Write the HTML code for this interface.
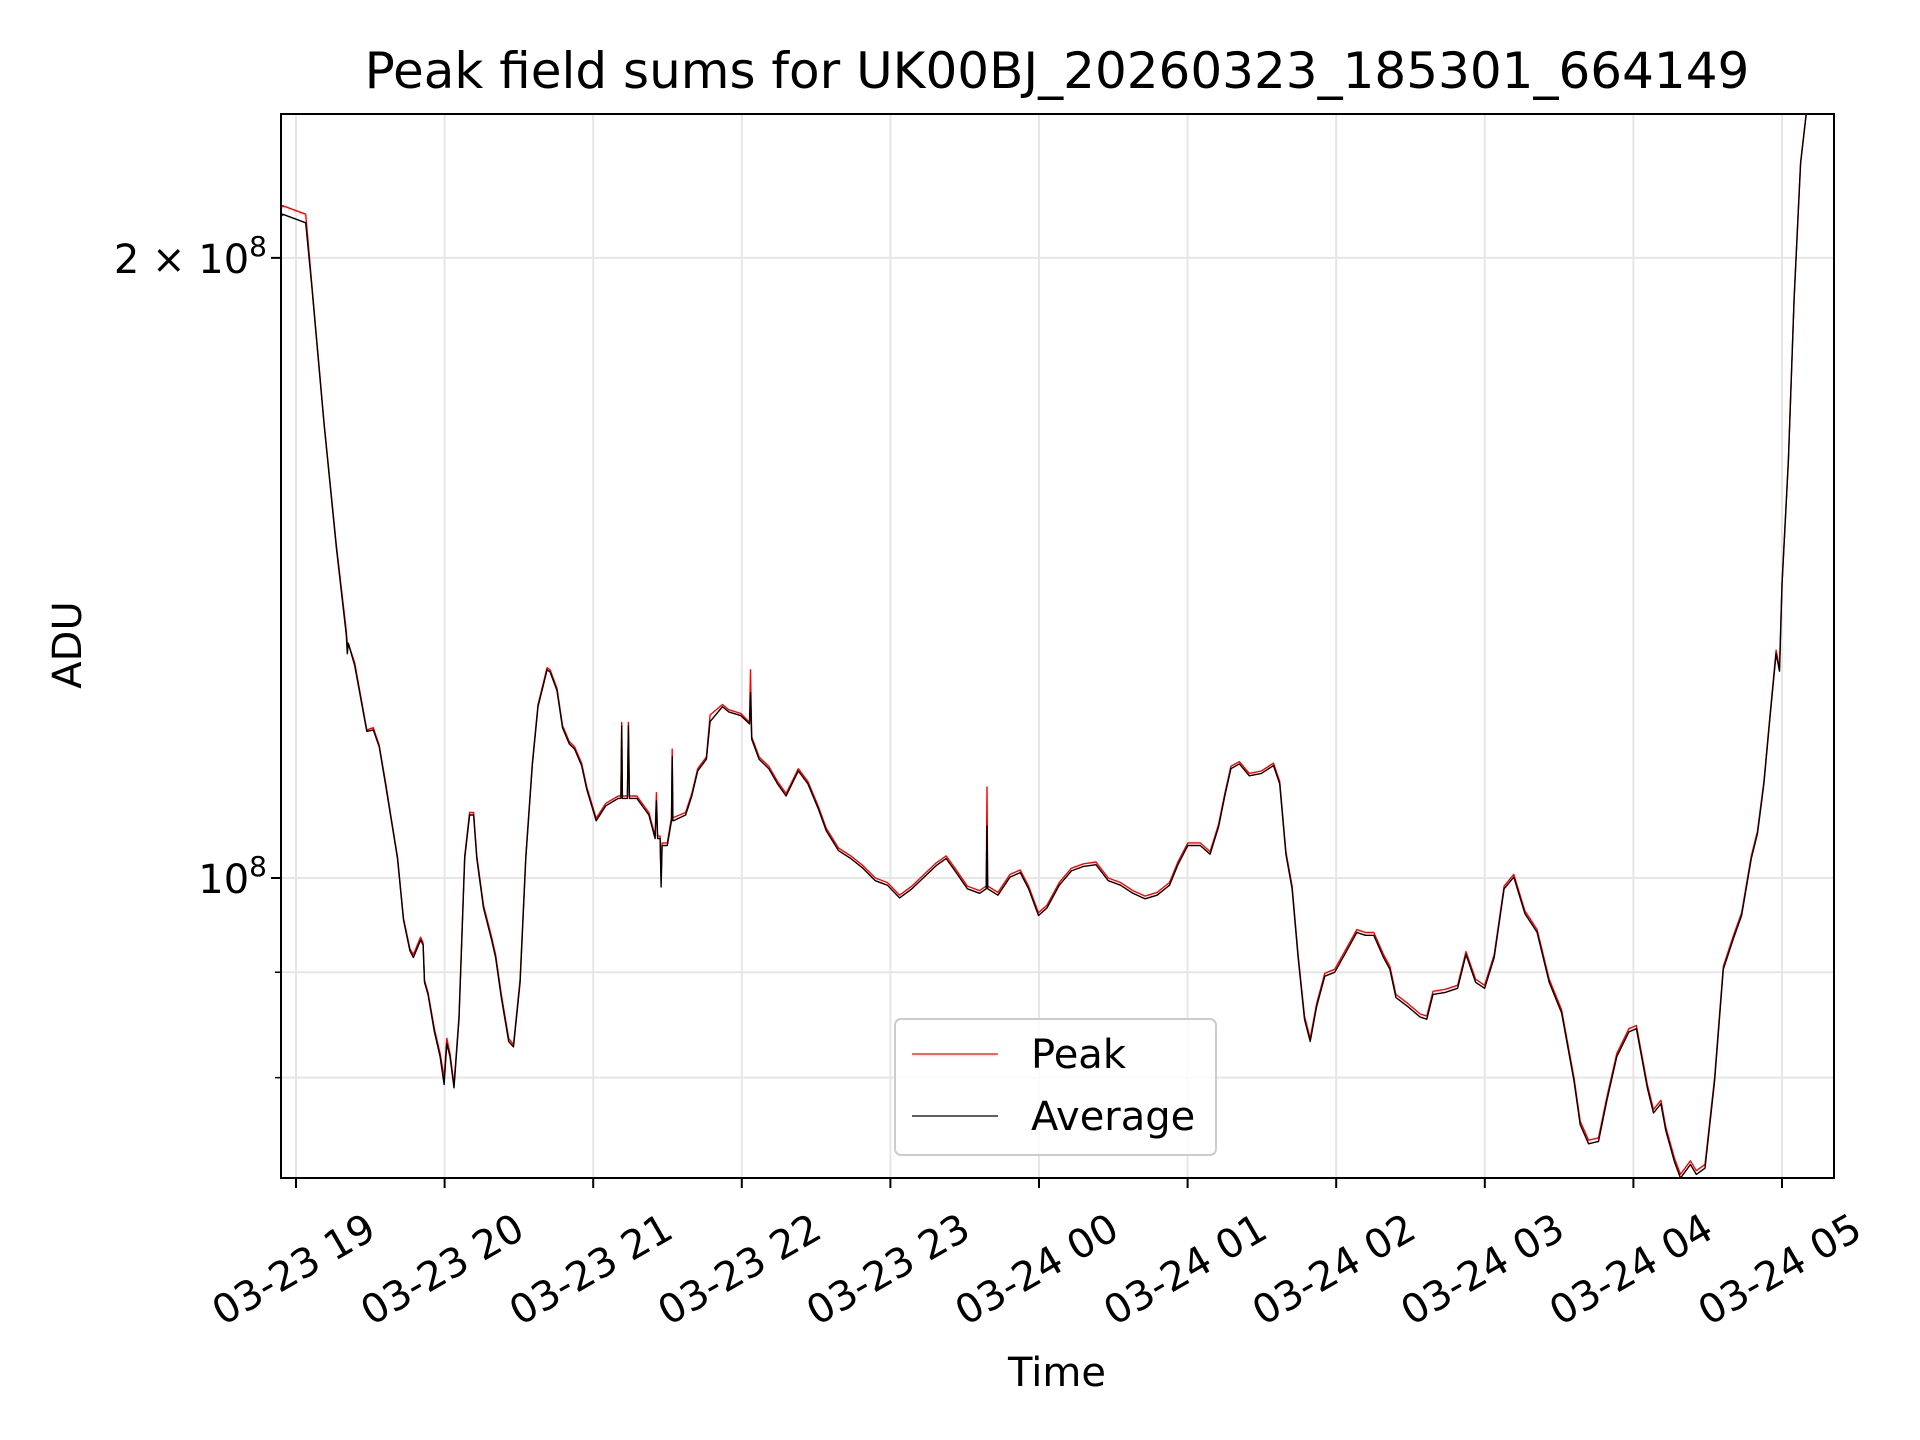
<!DOCTYPE html>
<html><head><meta charset="utf-8"><style>
html,body{margin:0;padding:0;background:#fff;}
svg{display:block;font-family:"DejaVu Sans","Liberation Sans",sans-serif;}
</style></head><body>
<svg id="chart" width="1920" height="1440" viewBox="0 0 1920 1440">
<defs><clipPath id="plotclip"><rect x="281" y="114" width="1553" height="1064"/></clipPath></defs>
<rect width="1920" height="1440" fill="#fff"/>
<text x="1057" y="88" font-size="50" text-anchor="middle">Peak field sums for UK00BJ_20260323_185301_664149</text>
<g id="grid"></g>
<g id="series" clip-path="url(#plotclip)"></g>
<rect x="281" y="114" width="1553" height="1064" fill="none" stroke="#000" stroke-width="2"/>
<g id="axes"></g>
<text x="1057" y="1386" font-size="40" text-anchor="middle">Time</text>
<text transform="translate(81,645) rotate(-90)" font-size="40" text-anchor="middle">ADU</text>
<g>
<rect x="895" y="1019" width="321" height="136" rx="6" fill="#fff" fill-opacity="0.8" stroke="#ccc" stroke-width="2"/>
<line x1="912" y1="1054" x2="998" y2="1054" stroke="#ff0000" stroke-width="1.3"/>
<text x="1031" y="1068" font-size="40">Peak</text>
<line x1="912" y1="1116" x2="998" y2="1116" stroke="#000" stroke-width="1.3"/>
<text x="1031" y="1130" font-size="40">Average</text>
</g>
</svg>
<script>
// minutes since 03-23 18:00
const minutes = [53.6,54.6,63.9,66.4,71.3,76.3,80.3,80.7,81.1,83.7,88.6,91.2,93.6,96.1,98.5,101.0,103.4,106.0,107.4,110.3,111.3,111.9,113.3,115.9,118.2,119.8,120.9,122.2,123.8,125.8,128.1,130.1,131.7,133.0,135.7,138.9,140.6,142.9,145.9,147.8,150.5,152.8,155.4,157.7,161.4,162.6,165.4,167.6,170.3,172.5,175.3,177.4,181.2,185.1,190.1,191.2,191.5,191.8,193.8,194.2,194.6,197.6,202.5,205.0,205.5,206.0,207.0,207.4,207.8,209.9,211.6,211.9,212.2,212.4,217.3,219.8,222.2,225.7,227.2,232.2,234.7,239.6,243.1,243.5,244.0,247.0,250.9,254.4,257.9,262.8,266.7,270.8,274.1,279.1,284.0,288.9,293.9,298.8,303.7,308.7,313.6,318.5,322.5,326.1,331.1,336.0,338.7,339.0,339.3,343.4,348.3,352.4,355.8,359.8,363.2,368.2,373.1,378.0,383.0,388.0,392.9,397.9,402.8,407.7,412.7,416.1,420.1,425.1,429.1,432.5,435.0,437.5,440.9,444.9,449.8,454.7,457.2,459.7,462.2,464.6,467.2,469.5,472.1,475.4,479.4,484.3,488.3,491.8,495.2,499.1,501.7,504.1,509.0,513.9,516.6,519.1,524.0,529.0,532.4,536.3,539.9,543.8,547.8,551.7,556.2,561.1,566.0,571.0,576.0,578.5,581.9,585.9,589.3,593.3,598.2,601.2,605.6,608.1,611.1,613.1,616.6,619.0,623.0,625.4,628.9,632.8,636.3,640.3,643.7,647.6,650.1,652.7,655.0,657.6,659.0,660.0,662.6,664.9,667.5,669.8,672.4,680.7,695];
// Average ADU in units of 1e8
const averageValues = [2.09,2.10,2.08,1.935,1.662,1.446,1.312,1.285,1.30,1.268,1.178,1.180,1.158,1.111,1.066,1.022,0.954,0.922,0.915,0.933,0.928,0.890,0.878,0.842,0.819,0.794,0.831,0.819,0.791,0.854,1.022,1.073,1.073,1.022,0.967,0.934,0.915,0.875,0.833,0.828,0.890,1.022,1.134,1.211,1.262,1.259,1.233,1.183,1.162,1.155,1.134,1.104,1.066,1.084,1.093,1.093,1.185,1.093,1.093,1.185,1.093,1.093,1.073,1.045,1.090,1.045,1.045,0.99,1.037,1.037,1.066,1.145,1.066,1.066,1.073,1.096,1.127,1.142,1.191,1.211,1.204,1.199,1.188,1.23,1.168,1.142,1.130,1.111,1.096,1.127,1.111,1.081,1.054,1.031,1.022,1.011,0.997,0.992,0.978,0.988,1.001,1.014,1.022,1.008,0.988,0.983,0.988,1.06,0.988,0.981,1.001,1.006,0.988,0.959,0.967,0.992,1.008,1.013,1.015,0.997,0.992,0.983,0.977,0.981,0.992,1.015,1.037,1.037,1.027,1.059,1.096,1.130,1.136,1.121,1.124,1.134,1.111,1.027,0.988,0.915,0.854,0.833,0.866,0.896,0.900,0.922,0.941,0.938,0.938,0.915,0.903,0.875,0.866,0.856,0.854,0.878,0.880,0.884,0.918,0.890,0.884,0.915,0.988,1.001,0.961,0.941,0.890,0.860,0.797,0.759,0.743,0.745,0.780,0.819,0.842,0.845,0.791,0.769,0.777,0.754,0.728,0.715,0.726,0.718,0.723,0.797,0.903,0.934,0.959,1.022,1.051,1.111,1.191,1.285,1.26,1.387,1.594,1.909,2.223,2.350,2.370,2.376,2.38];
// Peak ADU in units of 1e8
const peakValues = [2.11,2.12,2.10,1.94,1.665,1.45,1.318,1.30,1.30,1.272,1.18,1.183,1.16,1.114,1.068,1.024,0.956,0.924,0.918,0.936,0.93,0.892,0.880,0.845,0.822,0.80,0.836,0.822,0.794,0.857,1.025,1.076,1.076,1.025,0.97,0.937,0.918,0.878,0.836,0.83,0.893,1.025,1.137,1.214,1.265,1.262,1.236,1.186,1.165,1.158,1.137,1.107,1.069,1.087,1.096,1.096,1.19,1.096,1.096,1.19,1.096,1.096,1.076,1.048,1.10,1.048,1.048,1.00,1.04,1.04,1.07,1.155,1.07,1.07,1.076,1.099,1.13,1.145,1.2,1.214,1.207,1.202,1.19,1.262,1.171,1.145,1.133,1.114,1.099,1.13,1.114,1.084,1.057,1.034,1.025,1.014,1.0,0.995,0.981,0.991,1.004,1.017,1.025,1.011,0.991,0.986,0.991,1.107,0.991,0.984,1.004,1.009,0.991,0.962,0.97,0.995,1.011,1.016,1.018,1.0,0.995,0.986,0.98,0.984,0.995,1.018,1.04,1.04,1.03,1.062,1.099,1.133,1.139,1.124,1.127,1.137,1.114,1.03,0.991,0.918,0.857,0.836,0.869,0.899,0.903,0.925,0.944,0.941,0.941,0.918,0.906,0.878,0.869,0.859,0.857,0.881,0.883,0.887,0.921,0.893,0.887,0.918,0.991,1.004,0.964,0.944,0.893,0.863,0.80,0.762,0.746,0.748,0.783,0.822,0.845,0.848,0.794,0.772,0.78,0.757,0.731,0.718,0.729,0.721,0.726,0.80,0.906,0.937,0.962,1.025,1.054,1.114,1.194,1.29,1.265,1.39,1.597,1.912,2.226,2.353,2.372,2.378,2.382];
const tickHours = [19,20,21,22,23,24,25,26,27,28,29];
const tickLabels = ["03-23 19","03-23 20","03-23 21","03-23 22","03-23 23","03-24 00","03-24 01","03-24 02","03-24 03","03-24 04","03-24 05"];
const majorYTicks = [1,2];
const minorYTicks = [0.8,0.9];

const NS="http://www.w3.org/2000/svg";
const L=281,R=1834,T=114,B=1178;
function xScale(min){return 296+(min/60-1)*148.6;}
function yScale(v){return 878-2060*Math.log10(v);}
function mk(tag,attrs,parent){const e=document.createElementNS(NS,tag);for(const k in attrs)e.setAttribute(k,attrs[k]);parent.appendChild(e);return e;}
const grid=document.getElementById('grid'),axes=document.getElementById('axes'),series=document.getElementById('series');
tickHours.forEach((h,i)=>{
  const x=xScale((h-18)*60);
  const gl=mk('line',{x1:x,y1:T,x2:x,y2:B,stroke:'#e6e6e6','stroke-width':2},grid);
  
  
  const tk=mk('line',{x1:x,y1:B,x2:x,y2:B+10,stroke:'#000','stroke-width':2},axes);
  
  
  const t=mk('text',{transform:`translate(${x-2},1270) rotate(-30)`,'font-size':40,'text-anchor':'middle','dominant-baseline':'central'},axes);
  t.textContent=tickLabels[i];
  
  
});
majorYTicks.concat(minorYTicks).forEach(v=>{
  const y=yScale(v);
  const gl=mk('line',{x1:L,y1:y,x2:R,y2:y,stroke:'#e6e6e6','stroke-width':2},grid);
  
  
  const major=majorYTicks.includes(v);
  const tk=mk('line',{x1:L-(major?10:6),y1:y,x2:L,y2:y,stroke:'#000','stroke-width':major?2:1.5},axes);
  
  
  if(major){
    const t=mk('text',{x:L-14,y:y+15,'font-size':40,'text-anchor':'end'},axes);
    
    
    const pre=v===1?'10':'2 × 10';
    t.appendChild(document.createTextNode(pre));
    const s=mk('tspan',{'font-size':28,dy:-17},t);s.textContent='8';
  }
});
function path(vals,color,w,name){
  let d='';
  vals.forEach((v,i)=>{d+=(i?'L':'M')+xScale(minutes[i]).toFixed(1)+','+yScale(v).toFixed(1);});
  const p=mk('path',{d:d,fill:'none',stroke:color,'stroke-width':w,'stroke-linejoin':'round'},series);
  
  
}
path(peakValues,'#ff0000',1.4,'peak-line');
path(averageValues,'#000000',1.4,'average-line');
</script>
</body></html>
